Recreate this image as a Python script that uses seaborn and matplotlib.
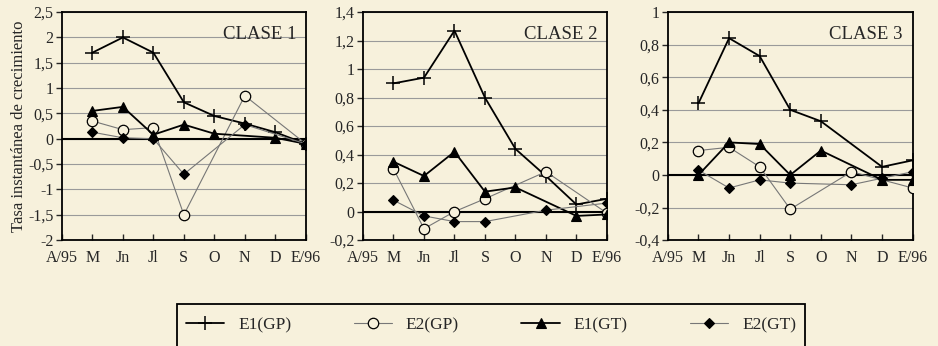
import numpy as np
import pandas as pd
import matplotlib.pyplot as plt
import seaborn as sns
from matplotlib.ticker import FuncFormatter
from matplotlib.patches import Rectangle

nan = np.nan

months = ['A/95', 'M', 'Jn', 'Jl', 'S', 'O', 'N', 'D', 'E/96']
series_names = ['E1(GP)', 'E2(GP)', 'E1(GT)', 'E2(GT)']

# values from M to E/96 (index 1..8)
clase1 = {
    'E1(GP)': [1.7, 2.0, 1.7, 0.72, 0.45, 0.3, 0.13, -0.1],
    'E2(GP)': [0.35, 0.18, 0.22, -1.5, nan, 0.85, nan, -0.1],
    'E1(GT)': [0.55, 0.63, 0.08, 0.28, 0.1, nan, 0.02, -0.1],
    'E2(GT)': [0.13, 0.02, 0.0, -0.7, nan, 0.28, nan, -0.1],
}
clase2 = {
    'E1(GP)': [0.9, 0.94, 1.27, 0.8, 0.44, 0.25, 0.05, 0.09],
    'E2(GP)': [0.3, -0.12, 0.0, 0.09, nan, 0.28, nan, -0.01],
    'E1(GT)': [0.35, 0.25, 0.42, 0.14, 0.17, nan, -0.03, -0.02],
    'E2(GT)': [0.08, -0.03, -0.07, -0.07, nan, 0.01, nan, 0.06],
}
clase3 = {
    'E1(GP)': [0.44, 0.84, 0.73, 0.4, 0.33, nan, 0.05, 0.09],
    'E2(GP)': [0.15, 0.17, 0.05, -0.21, nan, 0.02, nan, -0.08],
    'E1(GT)': [0.0, 0.2, 0.19, 0.0, 0.15, nan, -0.03, -0.03],
    'E2(GT)': [0.03, -0.08, -0.03, -0.05, nan, -0.06, -0.02, 0.02],
}

panels = [
    ('CLASE 1', clase1, (-2, 2.5), np.arange(-2, 2.51, 0.5)),
    ('CLASE 2', clase2, (-0.2, 1.4), np.arange(-0.2, 1.41, 0.2)),
    ('CLASE 3', clase3, (-0.4, 1.0), np.arange(-0.4, 1.01, 0.2)),
]

bg = '#f7f1dc'
styles = {
    'E1(GP)': dict(color='black', lw=1.3, marker='+', ms=10, mew=1.1, mfc='black', mec='black'),
    'E2(GP)': dict(color='#777777', lw=0.8, marker='o', ms=7.5, mew=0.9, mfc=bg, mec='black'),
    'E1(GT)': dict(color='black', lw=1.3, marker='^', ms=7.5, mew=0.8, mfc='black', mec='black'),
    'E2(GT)': dict(color='#777777', lw=0.8, marker='D', ms=5.5, mew=0.8, mfc='black', mec='black'),
}

sns.set_theme(style='white')
plt.rcParams['font.family'] = ['Liberation Serif', 'DejaVu Serif']

fig = plt.figure(figsize=(9.38, 3.46), dpi=100, facecolor=bg)
positions = [
    [0.066, 0.306, 0.260, 0.659],
    [0.387, 0.306, 0.260, 0.659],
    [0.712, 0.306, 0.261, 0.659],
]

fmt = FuncFormatter(lambda v, p: ('%g' % round(v, 2)).replace('.', ','))

for i, (title, data, ylim, yticks) in enumerate(panels):
    ax = fig.add_axes(positions[i])
    ax.set_facecolor(bg)
    for y in yticks:
        ax.axhline(y, color='#9a9a9a', lw=0.8, zorder=0)
    ax.axhline(0, color='black', lw=1.5, zorder=1)
    for name in series_names:
        df = pd.DataFrame({'x': np.arange(1, 9), 'y': data[name]}).dropna()
        st = styles[name]
        sns.lineplot(data=df, x='x', y='y', ax=ax, sort=False, label=name,
                     color=st['color'], lw=st['lw'], marker=st['marker'],
                     markersize=st['ms'], markeredgewidth=st['mew'],
                     markerfacecolor=st['mfc'], markeredgecolor=st['mec'],
                     zorder=3)
    ax.set_xlim(0, 8)
    ax.set_ylim(*ylim)
    ax.set_xticks(range(9))
    ax.set_xticklabels(months)
    ax.set_yticks(yticks)
    ax.yaxis.set_major_formatter(fmt)
    ax.tick_params(axis='y', labelsize=11.5, direction='out', length=4, width=1, left=True, pad=2)
    ax.tick_params(axis='x', labelsize=11.5, direction='in', length=4, width=1, bottom=True, pad=7)
    for s in ax.spines.values():
        s.set_color('black')
        s.set_linewidth(1.3)
    ax.set_xlabel('')
    ax.set_ylabel('')
    ax.text(0.96, 0.90, title, transform=ax.transAxes, ha='right', va='center', fontsize=13.5)
    if i == 0:
        ax.set_ylabel('Tasa instantánea de crecimiento', fontsize=12, labelpad=1)
        handles, labels = ax.get_legend_handles_labels()
    ax.get_legend().remove()

# legend frame (bottom edge runs off the image, as in the original)
fig.patches.append(Rectangle((0.1887, -0.05), 0.6695, 0.1714, transform=fig.transFigure,
                             fill=False, edgecolor='black', lw=1.3))

leg = fig.legend(handles, labels, loc='center', bbox_to_anchor=(0.5235, 0.061), ncol=4,
                 frameon=False, fontsize=12.5, handlelength=2.2,
                 columnspacing=3.6, handletextpad=0.8)

plt.savefig('out.png', dpi=100, facecolor=bg)
